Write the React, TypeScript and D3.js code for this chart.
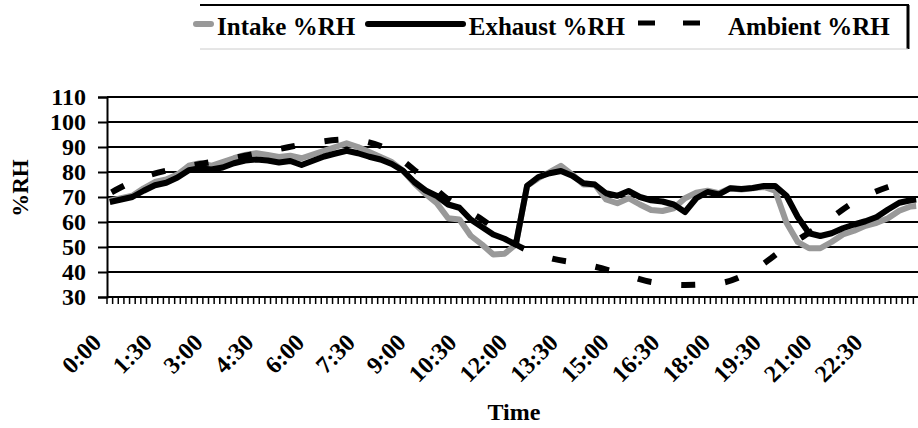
import React, { useRef, useEffect } from 'react';
import * as d3 from 'd3';

// 10-minute categories over one day
const fmtTime = (m: number) => `${Math.floor(m / 60)}:${String(m % 60).padStart(2, '0')}`;
const categories = d3.range(0, 1440, 10).map(fmtTime);

const tickLabels = [
  '0:00', '1:30', '3:00', '4:30', '6:00', '7:30', '9:00', '10:30',
  '12:00', '13:30', '15:00', '16:30', '18:00', '19:30', '21:00', '22:30',
];

const yTicks = [30, 40, 50, 60, 70, 80, 90, 100, 110];

// sampled every 20 min, last sample 23:50
const sampleTimes = d3.range(0, 1440, 20).concat([1430]);

const intake = [
  68.5, 69.5, 70.5, 73.5, 76, 77, 79, 82.5, 83.5, 82.5, 84, 85.5,
  86.8, 87.5, 86.8, 86, 86.5, 85.5, 87, 88.5, 90, 91.5, 90, 88,
  86, 84, 80.5, 75.5, 71.2, 67.5, 61.5, 61, 54.5, 51, 47, 47.3,
  51, 74.5, 77.5, 80, 82.5, 79, 75, 75, 69, 67.5, 69.5, 67,
  64.8, 64.4, 65.5, 69.5, 71.7, 72.5, 71.5, 73.5, 73, 73.5, 74, 72.5,
  59.7, 52, 49.5, 49.5, 52, 55, 56.5, 58.5, 59.7, 61.5, 64.5, 66.2, 66.4,
];

const exhaust = [
  68, 69, 70, 72.5, 74.7, 75.7, 77.8, 80.7, 81.5, 81, 81.8, 83.5,
  84.6, 85, 84.6, 83.8, 84.4, 82.8, 84.5, 86.2, 87.4, 88.5, 87.5, 86.1,
  85, 83.2, 80.5, 76, 72.6, 70.4, 67, 65.7, 61, 58, 55, 53.3,
  51, 74.5, 78, 79.5, 80.4, 78.5, 75.5, 75, 71.5, 70.5, 72.4, 70,
  68.7, 68.2, 67, 64, 69.5, 72, 71, 73.5, 73.2, 73.6, 74.4, 74.4,
  70.5, 62, 55.5, 54.4, 55.5, 57.5, 59, 60.3, 62, 65, 67.7, 68.7, 69,
];

// ambient read hourly
const ambientTimes = d3.range(0, 1440, 60).concat([1430]);
const ambient = [
  71.5, 78, 81.5, 84, 86.5, 89.2, 91.7, 93, 90.4, 80.8, 69, 61,
  51, 45.6, 43.2, 39.8, 36, 34.8, 35.5, 40.5, 50, 58.5, 68, 74, 77,
];

export default function App() {
  const ref = useRef<SVGSVGElement | null>(null);

  useEffect(() => {
    const svg = d3.select(ref.current);
    svg.selectAll('*').remove();

    const W = 918;
    const H = 428;
    const font = '"Liberation Serif", "Times New Roman", serif';
    const left = 107;
    const right = 919;
    const top = 97;
    const bottom = 297;

    svg.attr('width', W).attr('height', H).style('font-family', font);

    const x = d3.scaleBand<string>().domain(categories).range([left, right]).padding(0);
    const y = d3.scaleLinear().domain([30, 110]).range([bottom, top]);
    const cx = (m: number) => x(fmtTime(m))! + x.bandwidth() / 2;

    // grid lines
    svg.append('g')
      .selectAll('line')
      .data(yTicks.slice(1))
      .join('line')
      .attr('x1', left)
      .attr('x2', W)
      .attr('y1', d => y(d))
      .attr('y2', d => y(d))
      .attr('stroke', '#000')
      .attr('stroke-width', 2);

    // Y axis
    const yAxis = svg.append('g')
      .attr('transform', `translate(${left},0)`)
      .call(d3.axisLeft(y).tickValues(yTicks).tickSize(9).tickPadding(12));
    yAxis.select('.domain').attr('stroke', '#000').attr('stroke-width', 2);
    yAxis.selectAll('.tick line').attr('stroke', '#000').attr('stroke-width', 2);
    yAxis.selectAll('.tick text')
      .attr('font-family', font)
      .attr('font-size', 24)
      .attr('font-weight', 'bold')
      .attr('fill', '#000');

    // X axis: small ticks on category boundaries
    svg.append('line')
      .attr('x1', left).attr('x2', W)
      .attr('y1', bottom).attr('y2', bottom)
      .attr('stroke', '#000').attr('stroke-width', 2);
    svg.append('g')
      .selectAll('line')
      .data(categories)
      .join('line')
      .attr('x1', d => x(d)!)
      .attr('x2', d => x(d)!)
      .attr('y1', bottom)
      .attr('y2', bottom + 7)
      .attr('stroke', '#000')
      .attr('stroke-width', 1.5);

    // X tick labels
    svg.append('g')
      .selectAll('text')
      .data(tickLabels)
      .join('text')
      .attr('transform', d => `translate(${x(d)! + x.bandwidth() / 2 - 7},${bottom + 47}) rotate(-45)`)
      .attr('text-anchor', 'end')
      .attr('font-size', 24)
      .attr('font-weight', 'bold')
      .text(d => d);

    // lines
    const line = d3.line<[number, number]>()
      .x(d => cx(d[0]))
      .y(d => y(d[1]));

    svg.append('path')
      .datum(sampleTimes.map((t, i) => [t, intake[i]] as [number, number]))
      .attr('fill', 'none')
      .attr('stroke', '#999')
      .attr('stroke-width', 6)
      .attr('stroke-linejoin', 'round')
      .attr('d', line);

    svg.append('path')
      .datum(sampleTimes.map((t, i) => [t, exhaust[i]] as [number, number]))
      .attr('fill', 'none')
      .attr('stroke', '#000')
      .attr('stroke-width', 6)
      .attr('stroke-linejoin', 'round')
      .attr('d', line);

    svg.append('path')
      .datum(ambientTimes.map((t, i) => [t, ambient[i]] as [number, number]))
      .attr('fill', 'none')
      .attr('stroke', '#000')
      .attr('stroke-width', 6)
      .attr('stroke-dasharray', '14,30')
      .attr('stroke-dashoffset', -2)
      .attr('d', line.curve(d3.curveMonotoneX));

    // axis titles
    svg.append('text')
      .attr('transform', 'translate(28,188) rotate(-90)')
      .attr('text-anchor', 'middle')
      .attr('font-size', 23)
      .attr('font-weight', 'bold')
      .text('%RH');

    svg.append('text')
      .attr('x', 514)
      .attr('y', 420)
      .attr('text-anchor', 'middle')
      .attr('font-size', 24)
      .attr('font-weight', 'bold')
      .text('Time');

    // legend
    const lg = svg.append('g');
    lg.append('line').attr('x1', 200).attr('x2', 909).attr('y1', 5).attr('y2', 5)
      .attr('stroke', '#000').attr('stroke-width', 2);
    lg.append('line').attr('x1', 908).attr('x2', 908).attr('y1', 5).attr('y2', 49)
      .attr('stroke', '#000').attr('stroke-width', 3);
    lg.append('line').attr('x1', 200).attr('x2', 908).attr('y1', 49).attr('y2', 49)
      .attr('stroke', '#ccc').attr('stroke-width', 1);

    lg.append('line').attr('x1', 196).attr('x2', 211).attr('y1', 24).attr('y2', 24)
      .attr('stroke', '#999').attr('stroke-width', 6).attr('stroke-linecap', 'round');
    lg.append('text').attr('x', 217).attr('y', 35)
      .attr('font-size', 25).attr('font-weight', 'bold').text('Intake %RH');

    lg.append('line').attr('x1', 368).attr('x2', 463).attr('y1', 24).attr('y2', 24)
      .attr('stroke', '#000').attr('stroke-width', 6).attr('stroke-linecap', 'round');
    lg.append('text').attr('x', 625).attr('y', 35).attr('text-anchor', 'end')
      .attr('font-size', 25).attr('font-weight', 'bold').text('Exhaust %RH');

    lg.append('line').attr('x1', 638).attr('x2', 700).attr('y1', 23).attr('y2', 23)
      .attr('stroke', '#000').attr('stroke-width', 5).attr('stroke-dasharray', '17,28');
    lg.append('text').attr('x', 728).attr('y', 35)
      .attr('font-size', 25).attr('font-weight', 'bold').text('Ambient %RH');
  }, []);

  return <svg ref={ref} style={{ position: 'absolute', left: 0, top: 0 }} />;
}
